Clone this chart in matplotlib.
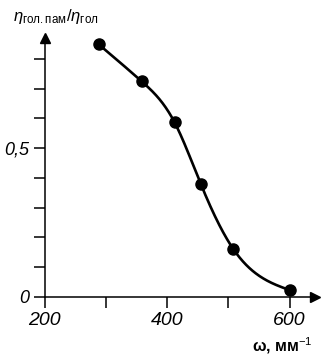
#!/usr/bin/env python3
import numpy as np
import matplotlib
matplotlib.use('Agg')
import matplotlib.pyplot as plt

# spatial frequency, mm^-1
omega = [288, 358, 412, 455, 508, 600]
# ratio eta_gol.pam / eta_gol
ratio = [0.849, 0.725, 0.587, 0.379, 0.161, 0.023]

x_ticks = [200, 300, 400, 500, 600]
x_labels = ['200', '', '400', '', '600']
y_ticks = [0, 0.1, 0.2, 0.3, 0.4, 0.5, 0.6, 0.7, 0.8]
y_labels = ['0', '', '', '', '', '0,5', '', '', '']


def natural_spline(x, y, xs):
    """Natural cubic spline through the measured points"""
    x = np.asarray(x, float)
    y = np.asarray(y, float)
    n = len(x)
    h = np.diff(x)
    A = np.zeros((n, n))
    b = np.zeros(n)
    A[0, 0] = A[-1, -1] = 1
    for k in range(1, n - 1):
        A[k, k - 1] = h[k - 1]
        A[k, k] = 2 * (h[k - 1] + h[k])
        A[k, k + 1] = h[k]
        b[k] = 3 * ((y[k + 1] - y[k]) / h[k] - (y[k] - y[k - 1]) / h[k - 1])
    c = np.linalg.solve(A, b)
    idx = np.clip(np.searchsorted(x, xs) - 1, 0, n - 2)
    dx = xs - x[idx]
    bb = (y[1:] - y[:-1]) / h - h * (2 * c[:-1] + c[1:]) / 3
    dd = (c[1:] - c[:-1]) / (3 * h)
    return y[idx] + bb[idx] * dx + c[idx] * dx**2 + dd[idx] * dx**3


plt.rcParams['font.family'] = ['Liberation Sans', 'DejaVu Sans']
plt.rcParams['mathtext.fontset'] = 'custom'
plt.rcParams['mathtext.rm'] = 'Liberation Sans'
plt.rcParams['mathtext.it'] = 'Liberation Sans:italic'

fig = plt.figure(figsize=(3.25, 3.56), dpi=100)
ax = fig.add_axes([0.138, 0.166, 0.832, 0.727])

xs = np.linspace(omega[0], omega[-1], 300)
ax.plot(xs, natural_spline(omega, ratio, xs), 'k-', lw=1.9)
ax.plot(omega, ratio, 'ko', markersize=8)

ax.set_xlim(200, 642)
ax.set_ylim(0, 0.87)
for side in ('top', 'right'):
    ax.spines[side].set_visible(False)
for side in ('left', 'bottom'):
    ax.spines[side].set_linewidth(1.1)

# arrow heads on the axes
ax.plot(1, 0, '>k', markersize=7, transform=ax.transAxes, clip_on=False)
ax.plot(0, 1, '^k', markersize=7, transform=ax.transAxes, clip_on=False)

ax.set_xticks(x_ticks)
ax.set_xticklabels(x_labels, fontsize=14, style='italic')
ax.set_yticks(y_ticks)
ax.set_yticklabels(y_labels, fontsize=13, style='italic')
ax.tick_params(axis='both', direction='out', length=8, width=1.1, pad=3)

fig.text(0.04, 0.955, r'$\eta_{\mathregular{гол.пам}}/\eta_{\mathregular{гол}}$',
         fontsize=12, va='center', ha='left')
fig.text(0.87, 0.03, r'ω, мм$^{-1}$', fontsize=11.5, fontweight='bold',
         va='center', ha='center')

fig.savefig('out.png', dpi=100)
